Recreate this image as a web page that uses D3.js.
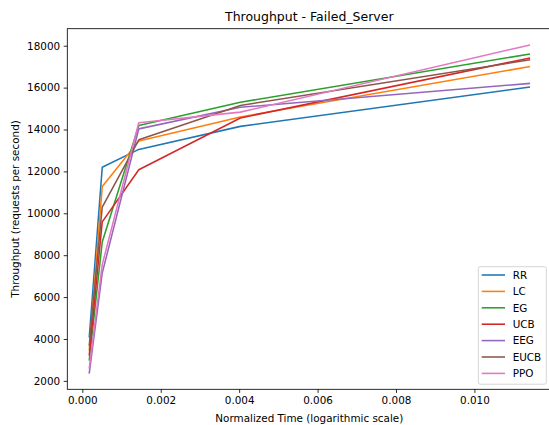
<!DOCTYPE html>
<meta charset="utf-8">
<head>
<style>
body { margin: 0; background: #fff; }
svg { font-family: "DejaVu Sans", sans-serif; }
</style>
<script src="https://cdn.jsdelivr.net/npm/d3@7"></script>
</head>
<body>
<div id="chart"></div>
<script>
// normalized time of each sample
var times = [0.000178, 0.000508, 0.00144, 0.00403, 0.0114]

var seriesNames = ['RR', 'LC', 'EG', 'UCB', 'EEG', 'EUCB', 'PPO']
var rr   = [4100, 12200, 13050, 14150, 16020]
var lc   = [3480, 11280, 13450, 14600, 17000]
var eg   = [3000, 8630, 14190, 15300, 17600]
var ucb  = [3240, 9590, 12080, 14550, 17410]
var eeg  = [2380, 7150, 14030, 15060, 16200]
var eucb = [3710, 10300, 13510, 15150, 17320]
var ppo  = [2620, 7550, 14320, 14830, 18030]
var seriesValues = [rr, lc, eg, ucb, eeg, eucb, ppo]

var xTicks = [0, 0.002, 0.004, 0.006, 0.008, 0.010]
var yTicks = [2000, 4000, 6000, 8000, 10000, 12000, 14000, 16000, 18000]

var colors = ['#1f77b4', '#ff7f0e', '#2ca02c', '#d62728', '#9467bd', '#8c564b', '#e377c2']

var W = 549, H = 425
// plot box (window.top is reserved, so use other names)
var pLeft = 67.3, pRight = 551.3, pTop = 28.7, pBottom = 389.3

var svg = d3.select('#chart').append('svg')
  .attr('width', W).attr('height', H)

// matplotlib style 5% margins
var xmin = d3.min(times), xmax = d3.max(times)
var xpad = (xmax - xmin) * 0.05
var x = d3.scaleLinear().domain([xmin - xpad, xmax + xpad]).range([pLeft, pRight])

var allVals = [].concat.apply([], seriesValues)
var ymin = d3.min(allVals), ymax = d3.max(allVals)
var ypad = (ymax - ymin) * 0.05
var y = d3.scaleLinear().domain([ymin - ypad, ymax + ypad]).range([pBottom, pTop])

var line = d3.line()
  .x(function(d, i) { return x(times[i]) })
  .y(function(d) { return y(d) })

svg.append('clipPath').attr('id', 'clip')
  .append('rect').attr('x', pLeft).attr('y', pTop)
  .attr('width', pRight - pLeft).attr('height', pBottom - pTop)

svg.append('g').selectAll('path.series')
  .data(seriesValues)
  .enter().append('path')
  .attr('class', 'series')
  .attr('d', line)
  .attr('fill', 'none')
  .attr('stroke', function(d, i) { return colors[i] })
  .attr('stroke-width', 1.56)
  .attr('stroke-linejoin', 'round')
  .attr('stroke-linecap', 'square')
  .attr('clip-path', 'url(#clip)')

// axes
svg.append('g')
  .attr('transform', 'translate(0,' + pBottom + ')')
  .call(d3.axisBottom(x).tickValues(xTicks).tickFormat(d3.format('.3f')).tickSizeInner(3.6).tickSizeOuter(0).tickPadding(3.6))
svg.append('g')
  .attr('transform', 'translate(' + pLeft + ',0)')
  .call(d3.axisLeft(y).tickValues(yTicks).tickFormat(d3.format('d')).tickSizeInner(3.6).tickSizeOuter(0).tickPadding(3.6))

svg.selectAll('.domain').remove()
svg.selectAll('.tick line').attr('stroke', '#000').attr('stroke-width', 0.83)
svg.selectAll('.tick text').attr('font-size', 10.4).attr('fill', '#000')
  .attr('font-family', '"DejaVu Sans", sans-serif')

// spines
svg.append('rect')
  .attr('x', pLeft).attr('y', pTop)
  .attr('width', pRight - pLeft).attr('height', pBottom - pTop)
  .attr('fill', 'none').attr('stroke', '#000').attr('stroke-width', 0.83)

// labels
svg.append('text')
  .attr('x', (pLeft + pRight) / 2).attr('y', 21)
  .attr('text-anchor', 'middle').attr('font-size', 12.5)
  .text('Throughput - Failed_Server')

svg.append('text')
  .attr('x', (pLeft + pRight) / 2).attr('y', 422)
  .attr('text-anchor', 'middle').attr('font-size', 10.4)
  .text('Normalized Time (logarithmic scale)')

svg.append('text')
  .attr('transform', 'translate(19,' + ((pTop + pBottom) / 2) + ') rotate(-90)')
  .attr('text-anchor', 'middle').attr('font-size', 10.4)
  .text('Throughput (requests per second)')

// legend
var legend = svg.append('g')
legend.append('rect')
  .attr('x', 478.3).attr('y', 266.7)
  .attr('width', 68).attr('height', 117.5)
  .attr('rx', 2)
  .attr('fill', '#fff').attr('fill-opacity', 0.8)
  .attr('stroke', '#cccccc').attr('stroke-width', 0.83)

var items = legend.selectAll('g.item')
  .data(seriesNames)
  .enter().append('g')
  .attr('class', 'item')
  .attr('transform', function(d, i) { return 'translate(0,' + (275 + i * 16.4) + ')' })

items.append('line')
  .attr('x1', 481.7).attr('x2', 505)
  .attr('stroke', function(d, i) { return colors[i] })
  .attr('stroke-width', 1.56)

items.append('text')
  .attr('x', 512.7).attr('y', 3.8)
  .attr('font-size', 10.4)
  .text(function(d) { return d })
</script>
</body>
</html>
